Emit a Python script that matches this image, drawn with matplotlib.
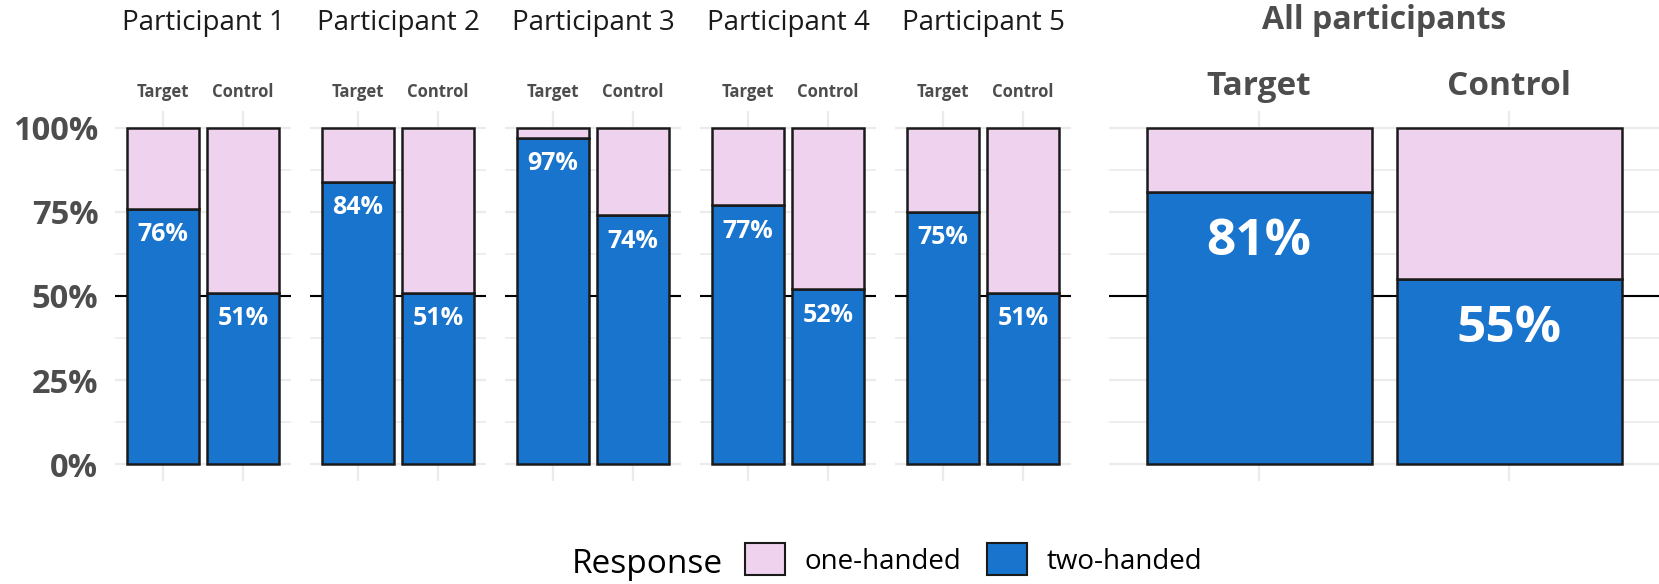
"""
Stacked bar chart - one-handed vs two-handed responses per participant
"""

import matplotlib
matplotlib.use("Agg")
import matplotlib.pyplot as plt
from matplotlib.patches import Patch

plt.rcParams['font.family'] = ['Open Sans', 'DejaVu Sans']

# Data: share of two-handed responses (percent)
conditions = ["Target", "Control"]
panels = ["Participant 1", "Participant 2", "Participant 3",
          "Participant 4", "Participant 5"]
two_handed = [
    [76, 51],
    [84, 51],
    [97, 74],
    [77, 52],
    [75, 51],
]
all_title = "All participants"
all_two_handed = [81, 55]
response_labels = ["one-handed", "two-handed"]
y_ticks = [0, 25, 50, 75, 100]
y_tick_labels = ["0%", "25%", "50%", "75%", "100%"]

PINK = "#EED2EE"
BLUE = "#1874CD"
EDGE = "#1a1a1a"
GRID = "#ebebeb"
GREY = "#4d4d4d"

W, H = 1659, 584


def px_axes(fig, left, top, width, height):
    """Add axes from pixel coordinates (top-left origin)"""
    return fig.add_axes([left / W, 1 - (top + height) / H, width / W, height / H])


def draw_panel(ax, values, tick_size, label_size, label_offset):
    """Draw one facet of stacked bars"""
    xs = [1, 2]
    share = [v / 100 for v in values]
    rest = [1 - s for s in share]

    ax.set_xlim(0.4, 2.6)
    ax.set_ylim(-0.05, 1.05)

    # grid
    for y in [0, 0.25, 0.5, 0.75, 1.0]:
        ax.axhline(y, color=GRID, lw=1.6, zorder=0)
    for y in [0.125, 0.375, 0.625, 0.875]:
        ax.axhline(y, color=GRID, lw=1.2, zorder=0)
    for x in xs:
        ax.axvline(x, color=GRID, lw=1.6, zorder=0)
    ax.axhline(0.5, color="black", lw=1.5, zorder=1)

    ax.bar(xs, share, width=0.9, color=BLUE, edgecolor=EDGE, lw=1.8, zorder=2)
    ax.bar(xs, rest, bottom=share, width=0.9, color=PINK, edgecolor=EDGE,
           lw=1.8, zorder=2)

    for x, s, v in zip(xs, share, values):
        ax.annotate(f"{v}%", (x, s), xytext=(0, -label_offset),
                    textcoords="offset points", ha="center", va="center",
                    color="white", fontsize=label_size, fontweight="bold",
                    zorder=3)

    ax.xaxis.tick_top()
    ax.set_xticks(xs)
    ax.set_xticklabels(conditions, fontweight="bold", color=GREY,
                       fontsize=tick_size)
    ax.tick_params(axis="x", length=0, pad=7)
    ax.set_yticks([t / 100 for t in y_ticks])
    ax.set_yticklabels([])
    ax.tick_params(axis="y", length=0)
    for spine in ax.spines.values():
        spine.set_visible(False)


def main():
    fig = plt.figure(figsize=(W / 100, H / 100), dpi=100)

    top, height = 111, 370
    for i, (name, vals) in enumerate(zip(panels, two_handed)):
        left = 115 + i * 195
        ax = px_axes(fig, left, top, 176, height)
        draw_panel(ax, vals, tick_size=12, label_size=18, label_offset=18.7)
        fig.text((left + 88) / W, 1 - 30 / H, name, ha="center",
                 va="baseline", fontsize=20, color="#1a1a1a")
        if i == 0:
            ax.set_yticklabels(y_tick_labels, fontweight="bold", color=GREY,
                               fontsize=23.5)
            ax.tick_params(axis="y", pad=12)

    ax = px_axes(fig, 1109, top, 550, height)
    draw_panel(ax, all_two_handed, tick_size=24, label_size=37, label_offset=36)
    ax.tick_params(axis="x", pad=6)
    fig.text((1109 + 275) / W, 1 - 29 / H, all_title, ha="center",
             va="baseline", fontsize=23, fontweight="bold", color=GREY)

    # legend
    fig.text(572 / W, 1 - 573 / H, "Response", ha="left", va="baseline",
             fontsize=24, color="black")
    handles = [Patch(facecolor=c, edgecolor=EDGE, lw=1.5) for c in (PINK, BLUE)]
    fig.legend(handles, response_labels, loc="center left",
               bbox_to_anchor=(745 / W, 1 - 559.5 / H), ncol=2, frameon=False,
               fontsize=20, borderpad=0, borderaxespad=0, handlelength=1.44,
               handleheight=1.4, handletextpad=0.72, columnspacing=0.9)

    fig.savefig("out.png", dpi=100)


if __name__ == "__main__":
    main()
